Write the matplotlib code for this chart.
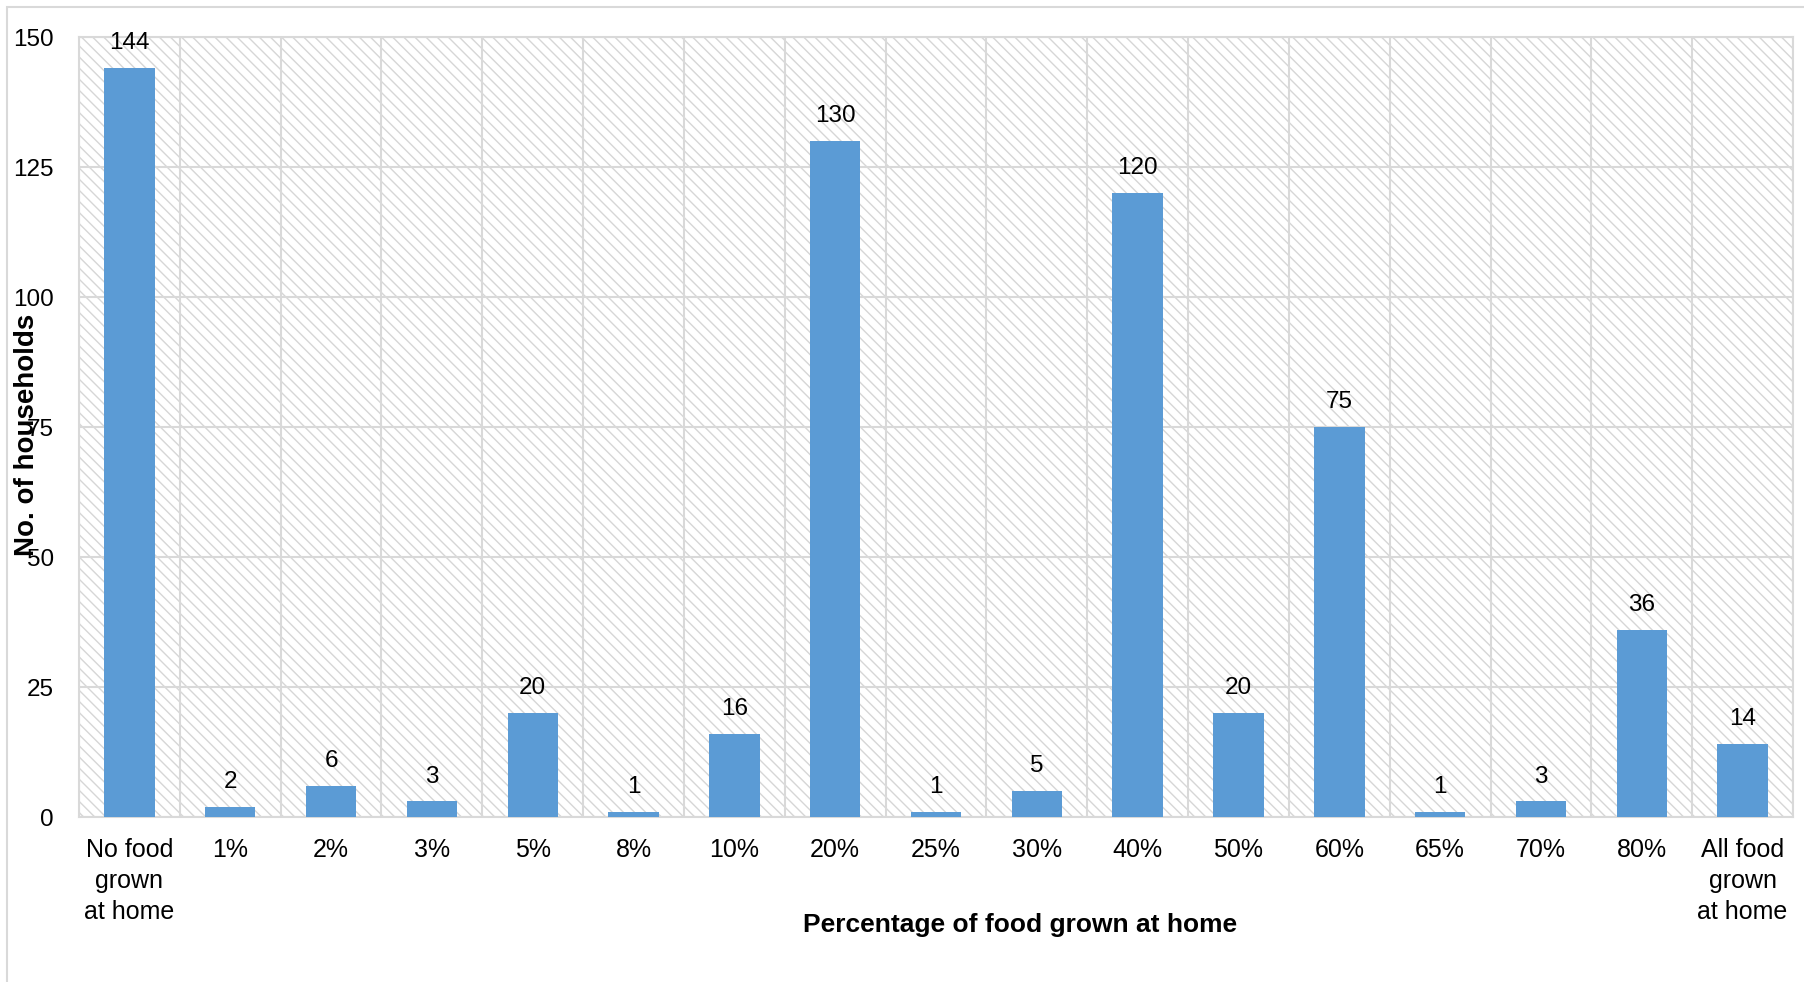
import matplotlib
matplotlib.use("Agg")
import matplotlib.pyplot as plt
from matplotlib.patches import Rectangle
import numpy as np

categories = ["No food\ngrown\nat home", "1%", "2%", "3%", "5%", "8%", "10%", "20%",
              "25%", "30%", "40%", "50%", "60%", "65%", "70%", "80%",
              "All food\ngrown\nat home"]
households = [144, 2, 6, 3, 20, 1, 16, 130, 1, 5, 120, 20, 75, 1, 3, 36, 14]
y_ticks = [0, 25, 50, 75, 100, 125, 150]

plt.rcParams["font.family"] = ["Liberation Sans", "DejaVu Sans"]
plt.rcParams["hatch.linewidth"] = 1.0

W, H = 1804, 982
fig = plt.figure(figsize=(W / 100, H / 100), dpi=100)
ax = fig.add_axes([79 / W, 1 - 817 / H, (1793 - 79) / W, (817 - 37) / H])

grid_c = "#d9d9d9"
x = np.arange(len(categories))

# hatched plot-area background
ax.add_patch(Rectangle((0, 0), 1, 1, transform=ax.transAxes, facecolor="white",
                       edgecolor="#d6d6d6", hatch="\\\\\\", lw=0, zorder=0))

bars = ax.bar(x, households, width=0.5, color="#5b9bd5", zorder=3)
ax.bar_label(bars, labels=[str(v) for v in households], padding=10,
             fontsize=17.5, color="black")

ax.set_xlim(-0.5, len(categories) - 0.5)
ax.set_ylim(0, 150)
ax.set_yticks(y_ticks)
ax.set_xticks(x)
ax.set_xticklabels(categories, fontsize=18, linespacing=1.36)
ax.set_xticks(np.arange(len(categories) + 1) - 0.5, minor=True)
ax.tick_params(axis="y", length=0, pad=18, labelsize=17.5)
ax.tick_params(axis="x", which="both", length=0, pad=15)

ax.grid(axis="y", color=grid_c, lw=1.5, zorder=1)
ax.grid(axis="x", which="minor", color=grid_c, lw=1.5, zorder=1)
ax.grid(axis="x", which="major", visible=False)
ax.set_axisbelow(True)
for s in ax.spines.values():
    s.set_color(grid_c)
    s.set_linewidth(1.5)

fig.text(27 / W, 1 - 435 / H, "No. of households", rotation=90, fontsize=20,
         fontweight="bold", ha="center", va="center")
fig.text(1020 / W, 1 - 925 / H, "Percentage of food grown at home", fontsize=19,
         fontweight="bold", ha="center", va="center")

# outer chart border
fig.patches.append(Rectangle((7 / W, -0.1), 1.2, 1.1 - 7 / H, transform=fig.transFigure,
                             fill=False, edgecolor=grid_c, lw=1.5))

fig.savefig("out.png", dpi=100)
